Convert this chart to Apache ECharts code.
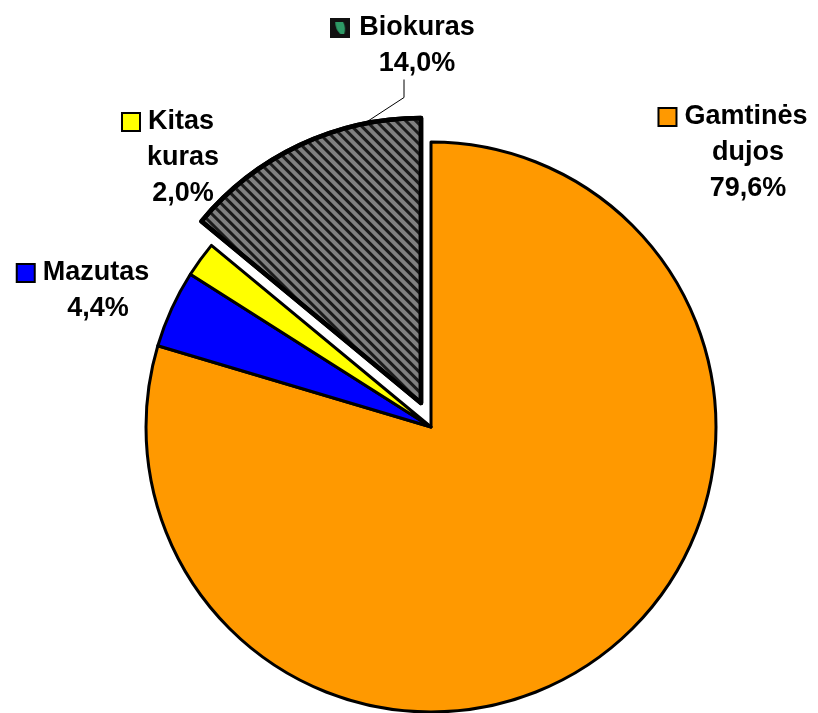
<!DOCTYPE html>
<html>
<head>
<meta charset="utf-8">
<script src="https://cdn.jsdelivr.net/npm/echarts@6/dist/echarts.min.js"></script>
<style>
  html, body { margin: 0; padding: 0; background: #fff; }
  #chart { width: 818px; height: 713px; }
</style>
</head>
<body>
<div id="chart"></div>
<script>
// duomenys
const categories = ['Gamtinės\ndujos', 'Mazutas', 'Kitas\nkuras', 'Biokuras']
const shares = [79.6, 4.4, 2.0, 14.0]
const colors = ['#FF9900', '#0000FF', '#FFFF00', '#808080']
const exploded = 3 // Biokuras slice is pulled out

// label anchors (text block centre), same order as categories
const labelPos = [[748, 153], [98, 291], [183, 158], [417, 46]]

const pieCenter = [431, 427]
const pieShifted = [421, 403]
const pieRadius = 285

// small icon for the hatched legend key
const icon = document.createElement('canvas')
icon.width = 20
icon.height = 20
const ictx = icon.getContext('2d')
ictx.fillStyle = '#111'
ictx.fillRect(0, 0, 20, 20)
ictx.fillStyle = '#2e9a66'
ictx.beginPath()
ictx.moveTo(5, 4)
ictx.lineTo(13, 4)
ictx.quadraticCurveTo(16, 10, 14, 16)
ictx.lineTo(10, 16)
ictx.quadraticCurveTo(5, 11, 5, 4)
ictx.closePath()
ictx.fill()

const chart = echarts.init(document.getElementById('chart'))

const rich = {
  t: { fontFamily: 'Liberation Sans', fontWeight: 'bold', fontSize: 27, lineHeight: 36, color: '#000' },
  g: { width: 9 },
  sp: { width: 29 },
}
colors.forEach((c, i) => {
  const bio = i === exploded
  rich['k' + i] = {
    width: bio ? 20 : 16,
    height: bio ? 20 : 16,
    backgroundColor: bio ? { image: icon } : c,
    borderColor: '#000',
    borderWidth: bio ? 0 : 2,
    verticalAlign: 'middle',
  }
})

const hatch = {
  symbol: 'rect',
  symbolSize: 1,
  dashArrayX: [1, 0],
  dashArrayY: [2.5, 4],
  rotation: Math.PI / 4,
  color: '#1a1a1a',
}

function fmt(p) {
  const lines = p.name.split('\n')
  const pct = p.value.toFixed(1).replace('.', ',') + '%'
  let s = `{k${p.dataIndex}|}{g|}{t|${lines[0]}}{sp|}`
  for (let j = 1; j < lines.length; j++) s += `\n{t|${lines[j]}}`
  return s + `\n{t|${pct}}`
}

// leader for the pulled-out slice: from its arc up to below its label
function leader(i, lx, ly, h) {
  let before = 0
  for (let j = 0; j < i; j++) before += shares[j]
  const total = shares.reduce((a, b) => a + b, 0)
  const frac = (before + shares[i] * 0.77) / total
  const a = frac * 2 * Math.PI
  const sx = pieShifted[0] + pieRadius * Math.sin(a)
  const sy = pieShifted[1] - pieRadius * Math.cos(a)
  const bottom = ly + h / 2
  return [[sx, sy], [lx - 13, bottom + 20], [lx - 13, bottom + 2]]
}

// one pie for the slices in place, one (shifted centre) for the pulled-out slice
function pie(center, showOnly) {
  return {
    type: 'pie',
    center: center,
    radius: pieRadius,
    startAngle: 90,
    clockwise: true,
    avoidLabelOverlap: false,
    emphasis: { disabled: true },
    label: {
      show: true,
      align: 'center',
      overflow: 'none',
      formatter: fmt,
      rich: rich,
    },
    labelLine: { show: false },
    labelLayout: (params) => {
      const pos = labelPos[params.dataIndex]
      const out = { x: pos[0], y: pos[1], align: 'center', verticalAlign: 'middle' }
      if (showOnly && params.dataIndex === exploded) {
        out.labelLinePoints = leader(exploded, pos[0], pos[1], params.labelRect.height)
      }
      return out
    },
    data: categories.map((name, i) => {
      const visible = showOnly ? i === exploded : i !== exploded
      const item = {
        name: name,
        value: shares[i],
        itemStyle: visible
          ? { color: colors[i], borderColor: '#000', borderWidth: i === exploded ? 4.5 : 3 }
          : { color: 'transparent', borderWidth: 0 },
        label: { show: visible },
      }
      if (visible && i === exploded) {
        item.itemStyle.decal = hatch
        item.labelLine = { show: true, lineStyle: { color: '#000', width: 1 } }
      }
      return item
    }),
  }
}

const option = {
  backgroundColor: '#fff',
  animation: false,
  series: [pie(pieCenter, false), pie(pieShifted, true)],
}

chart.setOption(option)
</script>
</body>
</html>
